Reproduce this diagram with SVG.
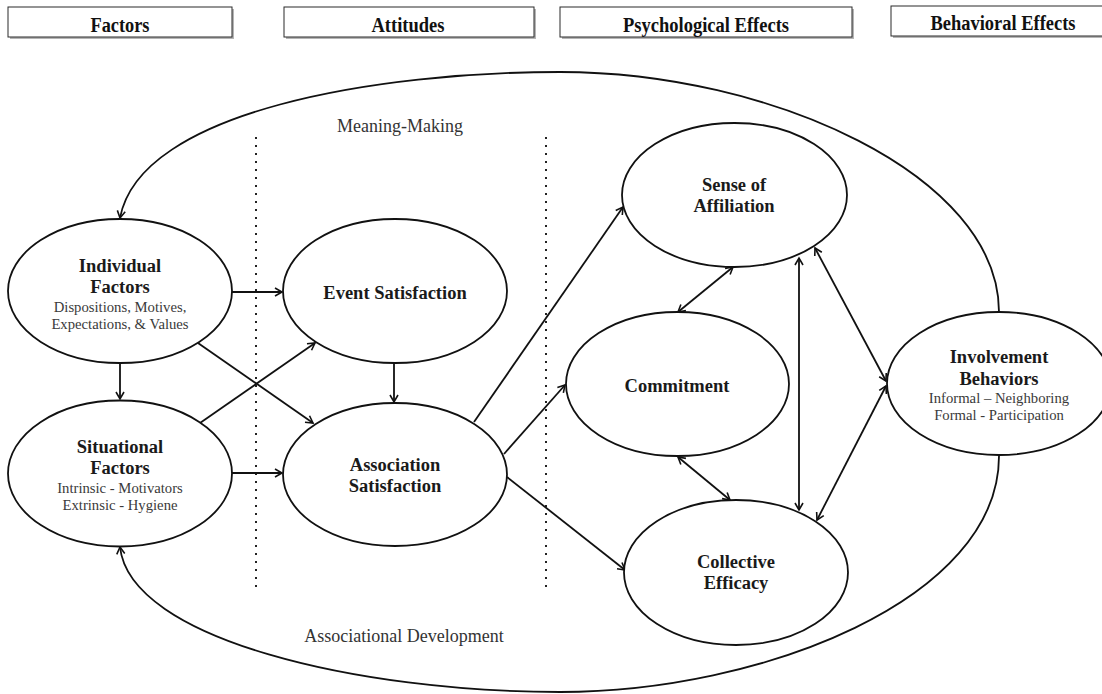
<svg xmlns="http://www.w3.org/2000/svg" width="1102" height="694" viewBox="0 0 1102 694">
  <defs>
    <style>
      .hdr-shadow { fill: #b5b5b5; }
      .hdr-box { fill: #ffffff; stroke: #2a2a2a; stroke-width: 1; }
      .hdr-text { font-family: "Liberation Serif", "Times New Roman", serif; font-weight: bold; font-size: 20px; fill: #111; text-anchor: middle; }
      .node { fill: #ffffff; stroke: #111; stroke-width: 1.8; }
      .title { font-family: "Liberation Serif", "Times New Roman", serif; font-weight: bold; font-size: 18.5px; fill: #1a1a1a; text-anchor: middle; }
      .sub { font-family: "Liberation Serif", "Times New Roman", serif; font-size: 14.7px; fill: #3a3a3a; text-anchor: middle; }
      .loop-label { font-family: "Liberation Serif", "Times New Roman", serif; font-size: 18px; fill: #333; text-anchor: middle; }
      .edge { fill: none; stroke: #111; stroke-width: 1.8; }
      .divider { fill: none; stroke: #222; stroke-width: 2; stroke-dasharray: 2 6; }
    </style>
    <marker id="arrow" viewBox="-10 -6 12 12" refX="0" refY="0" markerWidth="12" markerHeight="12" markerUnits="userSpaceOnUse" orient="auto-start-reverse">
      <path d="M-7,-4 L0,0 L-7,4" fill="none" stroke="#111" stroke-width="1.6"/>
    </marker>
  </defs>

  <rect width="1102" height="694" fill="#ffffff"/>

  <!-- column headers -->
  <g id="headers">
    <g id="hdr-factors">
      <rect class="hdr-shadow" x="10" y="9" width="224" height="30"/>
      <rect class="hdr-box" x="8" y="7" width="224" height="30"/>
      <text class="hdr-text" x="120" y="32" textLength="59" lengthAdjust="spacingAndGlyphs">Factors</text>
    </g>
    <g id="hdr-attitudes">
      <rect class="hdr-shadow" x="286" y="9" width="250" height="30"/>
      <rect class="hdr-box" x="284" y="7" width="250" height="30"/>
      <text class="hdr-text" x="408" y="32" textLength="73" lengthAdjust="spacingAndGlyphs">Attitudes</text>
    </g>
    <g id="hdr-psych">
      <rect class="hdr-shadow" x="562" y="9" width="292" height="30"/>
      <rect class="hdr-box" x="560" y="7" width="292" height="30"/>
      <text class="hdr-text" x="706" y="32" textLength="166" lengthAdjust="spacingAndGlyphs">Psychological Effects</text>
    </g>
    <g id="hdr-behavioral">
      <rect class="hdr-shadow" x="893" y="8" width="215" height="30"/>
      <rect class="hdr-box" x="891" y="6" width="215" height="30"/>
      <text class="hdr-text" x="1003" y="30" textLength="145" lengthAdjust="spacingAndGlyphs">Behavioral Effects</text>
    </g>
  </g>

  <!-- dotted column dividers -->
  <g id="dividers">
    <line class="divider" x1="256" y1="137" x2="256" y2="588"/>
    <line class="divider" x1="546" y1="137" x2="546" y2="588"/>
  </g>

  <!-- feedback loops -->
  <g id="loops">
    <path class="edge" d="M999,312 C999,175 770,72 560,72 C380,72 140,110 120,218" marker-end="url(#arrow)"/>
    <path class="edge" d="M999,455 C1000,600 760,692 560,692 C360,692 130,640 120,547" marker-end="url(#arrow)"/>
    <text class="loop-label" x="400" y="132">Meaning-Making</text>
    <text class="loop-label" x="404" y="642">Associational Development</text>
  </g>

  <!-- connectors -->
  <g id="connectors">
    <line class="edge" x1="232" y1="292" x2="282" y2="292" marker-end="url(#arrow)"/>
    <line class="edge" x1="232" y1="473" x2="282" y2="473" marker-end="url(#arrow)"/>
    <line class="edge" x1="120" y1="363" x2="120" y2="399" marker-end="url(#arrow)"/>
    <line class="edge" x1="198" y1="343" x2="313" y2="423" marker-end="url(#arrow)"/>
    <line class="edge" x1="200" y1="423" x2="315" y2="343" marker-end="url(#arrow)"/>
    <line class="edge" x1="394" y1="363" x2="394" y2="402" marker-end="url(#arrow)"/>
    <line class="edge" x1="474" y1="422" x2="623" y2="207" marker-end="url(#arrow)"/>
    <line class="edge" x1="504" y1="454" x2="565" y2="385" marker-end="url(#arrow)"/>
    <line class="edge" x1="507" y1="477" x2="625" y2="570" marker-end="url(#arrow)"/>
    <line class="edge" x1="733" y1="267" x2="678" y2="312" marker-start="url(#arrow)" marker-end="url(#arrow)"/>
    <line class="edge" x1="678" y1="457" x2="730" y2="500" marker-start="url(#arrow)" marker-end="url(#arrow)"/>
    <line class="edge" x1="799" y1="258" x2="799" y2="510" marker-start="url(#arrow)" marker-end="url(#arrow)"/>
    <line class="edge" x1="815" y1="248" x2="886" y2="381" marker-start="url(#arrow)" marker-end="url(#arrow)"/>
    <line class="edge" x1="817" y1="520" x2="886" y2="386" marker-start="url(#arrow)" marker-end="url(#arrow)"/>
  </g>

  <!-- nodes -->
  <g id="individual-factors">
    <ellipse class="node" cx="120" cy="291" rx="112" ry="72"/>
    <text class="title" x="120" y="272">Individual</text>
    <text class="title" x="120" y="293">Factors</text>
    <text class="sub" x="120" y="312">Dispositions, Motives,</text>
    <text class="sub" x="120" y="329">Expectations, &amp; Values</text>
  </g>
  <g id="situational-factors">
    <ellipse class="node" cx="120" cy="473.5" rx="112" ry="73"/>
    <text class="title" x="120" y="453">Situational</text>
    <text class="title" x="120" y="474">Factors</text>
    <text class="sub" x="120" y="493">Intrinsic - Motivators</text>
    <text class="sub" x="120" y="510">Extrinsic - Hygiene</text>
  </g>
  <g id="event-satisfaction">
    <ellipse class="node" cx="395" cy="291" rx="112" ry="72"/>
    <text class="title" x="395" y="299">Event Satisfaction</text>
  </g>
  <g id="association-satisfaction">
    <ellipse class="node" cx="395" cy="474.5" rx="112" ry="71.5"/>
    <text class="title" x="395" y="471">Association</text>
    <text class="title" x="395" y="492">Satisfaction</text>
  </g>
  <g id="sense-of-affiliation">
    <ellipse class="node" cx="734.5" cy="195" rx="112.5" ry="72"/>
    <text class="title" x="734" y="191">Sense of</text>
    <text class="title" x="734" y="212">Affiliation</text>
  </g>
  <g id="commitment">
    <ellipse class="node" cx="677.5" cy="384" rx="111.5" ry="72"/>
    <text class="title" x="677" y="392">Commitment</text>
  </g>
  <g id="collective-efficacy">
    <ellipse class="node" cx="736" cy="572.5" rx="112" ry="72.5"/>
    <text class="title" x="736" y="568">Collective</text>
    <text class="title" x="736" y="589">Efficacy</text>
  </g>
  <g id="involvement-behaviors">
    <ellipse class="node" cx="999" cy="383.5" rx="112" ry="71.5"/>
    <text class="title" x="999" y="363">Involvement</text>
    <text class="title" x="999" y="385">Behaviors</text>
    <text class="sub" x="999" y="403">Informal – Neighboring</text>
    <text class="sub" x="999" y="420">Formal - Participation</text>
  </g>
</svg>
